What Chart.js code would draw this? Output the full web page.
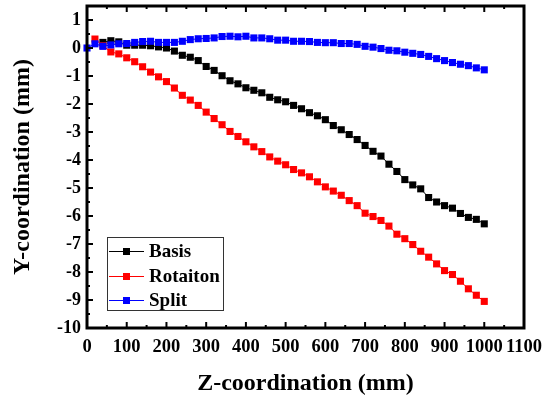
<!DOCTYPE html>
<html><head><meta charset="utf-8">
<script src="https://cdn.jsdelivr.net/npm/chart.js@4.4.0/dist/chart.umd.min.js"></script>
<style>html,body{margin:0;padding:0;background:#fff}</style>
</head><body>
<canvas id="c" width="544" height="398"></canvas>
<script>
const seriesNames = ['Basis', 'Rotaiton', 'Split'];
const xTickLabels = ['0','100','200','300','400','500','600','700','800','900','1000','1100'];
const yTickLabels = ['-10','-9','-8','-7','-6','-5','-4','-3','-2','-1','0','1'];

const zBasis = [40,60,80,100,120,140,160,180,200,220,240,260,280,300,320,340,360,380,400,420,440,460,480,500,520,540,560,580,600,620,640,660,680,700,720,740,760,780,800,820,840,860,880,900,920,940,960,980,1000];
const yBasis = [0.2,0.26,0.22,0.1,0.1,0.1,0.08,0.04,0.0,-0.11,-0.26,-0.33,-0.45,-0.66,-0.8,-0.99,-1.17,-1.28,-1.42,-1.51,-1.6,-1.76,-1.85,-1.92,-2.05,-2.17,-2.31,-2.42,-2.56,-2.77,-2.92,-3.09,-3.27,-3.48,-3.69,-3.86,-4.15,-4.41,-4.7,-4.89,-5.03,-5.34,-5.5,-5.63,-5.72,-5.91,-6.05,-6.12,-6.28];

const zRot = [20,40,60,80,100,120,140,160,180,200,220,240,260,280,300,320,340,360,380,400,420,440,460,480,500,520,540,560,580,600,620,640,660,680,700,720,740,760,780,800,820,840,860,880,900,920,940,960,980,1000];
const yRot = [0.32,0.08,-0.14,-0.21,-0.35,-0.49,-0.67,-0.86,-1.03,-1.2,-1.43,-1.69,-1.86,-2.05,-2.29,-2.52,-2.74,-2.98,-3.16,-3.35,-3.53,-3.7,-3.89,-4.04,-4.17,-4.34,-4.46,-4.6,-4.78,-4.96,-5.11,-5.26,-5.45,-5.63,-5.9,-6.02,-6.16,-6.36,-6.65,-6.81,-7.02,-7.26,-7.47,-7.71,-7.95,-8.09,-8.33,-8.6,-8.83,-9.05];

const zSplit = [0,20,40,60,80,100,120,140,160,180,200,220,240,260,280,300,320,340,360,380,400,420,440,460,480,500,520,540,560,580,600,620,640,660,680,700,720,740,760,780,800,820,840,860,880,900,920,940,960,980,1000];
const ySplit = [0.0,0.15,0.06,0.11,0.15,0.16,0.2,0.23,0.24,0.2,0.2,0.2,0.24,0.3,0.33,0.34,0.36,0.41,0.42,0.4,0.42,0.36,0.36,0.33,0.28,0.28,0.24,0.24,0.23,0.2,0.19,0.19,0.16,0.16,0.13,0.06,0.03,-0.02,-0.08,-0.1,-0.15,-0.19,-0.23,-0.3,-0.38,-0.45,-0.52,-0.58,-0.63,-0.71,-0.78];

const colors = ['#000000', '#ff0000', '#0000ff'];
const FONT = '"Liberation Serif", "Times New Roman", serif';

function pts(xs, ys) { return xs.map((v, i) => ({x: v, y: ys[i]})); }

function ds(i, xs, ys, order) {
  return {
    label: seriesNames[i],
    data: pts(xs, ys),
    borderColor: colors[i],
    backgroundColor: colors[i],
    borderWidth: 1,
    pointStyle: 'rect',
    pointRadius: 5,
    pointBorderWidth: 0,
    showLine: true,
    clip: false,
    order: order
  };
}

const frameTicks = {
  id: 'frameTicks',
  afterDatasetsDraw(chart) {
    const {ctx, chartArea: {left, right, top, bottom}, scales: {x, y}} = chart;
    ctx.save();
    ctx.strokeStyle = '#000';
    ctx.lineWidth = 2;
    ctx.beginPath();
    for (let i = 0; i < xTickLabels.length; i++) {
      const v = Number(xTickLabels[i]);
      const px = x.getPixelForValue(v);
      ctx.moveTo(px, bottom); ctx.lineTo(px, bottom - 6);
      ctx.moveTo(px, top); ctx.lineTo(px, top + 6);
      if (i < xTickLabels.length - 1) {
        const pm = x.getPixelForValue(v + 50);
        ctx.moveTo(pm, bottom); ctx.lineTo(pm, bottom - 3);
        ctx.moveTo(pm, top); ctx.lineTo(pm, top + 3);
      }
    }
    for (let i = 0; i < yTickLabels.length; i++) {
      const v = Number(yTickLabels[i]);
      const py = y.getPixelForValue(v);
      ctx.moveTo(left, py); ctx.lineTo(left + 6, py);
      const pm = y.getPixelForValue(v + 0.5);
      ctx.moveTo(left, pm); ctx.lineTo(left + 3, pm);
    }
    ctx.stroke();
    ctx.lineWidth = 3;
    ctx.strokeRect(left, top, right - left, bottom - top);

    // legend
    const bx = 107, by = 237, bw = 116, bh = 73;
    ctx.lineWidth = 1;
    ctx.strokeStyle = '#333';
    ctx.strokeRect(bx + 0.5, by + 0.5, bw, bh);
    const rows = [251, 276, 300];
    ctx.font = 'bold 19px ' + FONT;
    ctx.textBaseline = 'middle';
    ctx.textAlign = 'left';
    for (let i = 0; i < 3; i++) {
      const ry = rows[i];
      ctx.strokeStyle = colors[i];
      ctx.lineWidth = 1;
      ctx.beginPath();
      ctx.moveTo(109, ry + 0.5); ctx.lineTo(144, ry + 0.5);
      ctx.stroke();
      ctx.fillStyle = colors[i];
      ctx.fillRect(123, ry - 3, 7, 7);
      ctx.fillStyle = '#000';
      ctx.fillText(seriesNames[i], 149, ry + 1);
    }
    ctx.restore();
  }
};

new Chart(document.getElementById('c'), {
  type: 'scatter',
  data: {
    datasets: [
      ds(0, zBasis, yBasis, 3),
      ds(1, zRot, yRot, 2),
      ds(2, zSplit, ySplit, 1)
    ]
  },
  options: {
    responsive: false,
    animation: false,
    devicePixelRatio: 1,
    layout: {padding: {left: 0, top: 6, right: 20, bottom: 0}},
    plugins: {legend: {display: false}, tooltip: {enabled: false}},
    scales: {
      x: {
        type: 'linear', min: 0, max: 1100,
        grid: {display: false, drawTicks: false},
        border: {display: false},
        afterBuildTicks(s) { s.ticks = xTickLabels.map(t => ({value: Number(t)})); },
        ticks: {
          autoSkip: false, maxRotation: 0, minRotation: 0, color: '#000', padding: 8,
          font: {family: FONT, size: 18.5, weight: 'bold'},
          callback: (v) => String(v)
        },
        title: {display: true, text: 'Z-coordination (mm)', color: '#000',
          font: {family: FONT, size: 24, weight: 'bold'}, padding: {top: 0, bottom: 0}},
        afterFit(s) { s.height = 70; s.paddingLeft = 0; s.paddingRight = 0; }
      },
      y: {
        type: 'linear', min: -10, max: 1.5,
        grid: {display: false, drawTicks: false},
        border: {display: false},
        afterBuildTicks(s) { s.ticks = yTickLabels.map(t => ({value: Number(t)})); },
        ticks: {
          autoSkip: false, color: '#000', padding: 6,
          font: {family: FONT, size: 18, weight: 'bold'},
          callback: (v) => String(v)
        },
        title: {display: true, text: 'Y-coordination (mm)', color: '#000',
          font: {family: FONT, size: 24, weight: 'bold'}, padding: {top: 8, bottom: 0}},
        afterFit(s) { s.width = 87; s.paddingTop = 0; s.paddingBottom = 0; }
      }
    }
  },
  plugins: [frameTicks]
});
</script>
</body></html>
